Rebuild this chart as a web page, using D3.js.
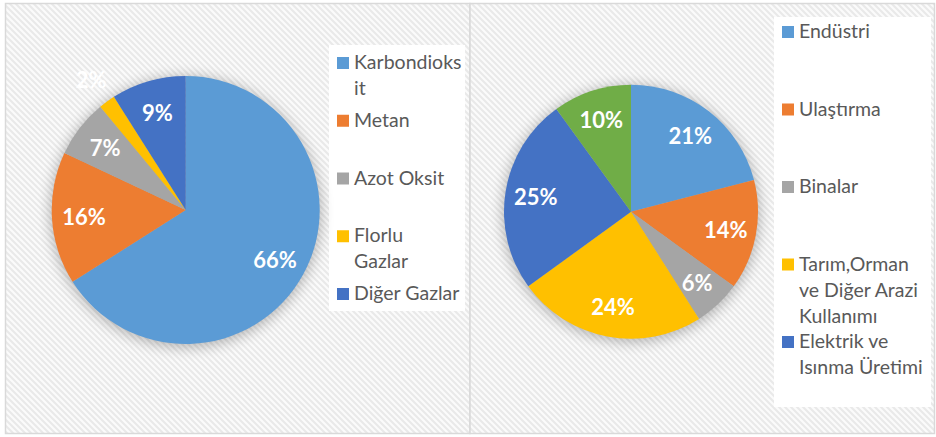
<!DOCTYPE html>
<html><head><meta charset="utf-8">
<script src="https://cdn.jsdelivr.net/npm/d3@7"></script>
<style>
html,body{margin:0;padding:0;background:#fff;}
svg{display:block;}
</style></head>
<body>
<svg id="chart" width="936" height="437"></svg>
<script>
// ---- data ----
const gasCategories = ["Karbondioksit", "Metan", "Azot Oksit", "Florlu Gazlar", "Diğer Gazlar"];
const gasValues = [66, 16, 7, 2, 9];
const gasLegendLines = [["Karbondioks", "it"], ["Metan"], ["Azot Oksit"], ["Florlu", "Gazlar"], ["Diğer Gazlar"]];

const sectorCategories = ["Endüstri", "Ulaştırma", "Binalar", "Tarım,Orman ve Diğer Arazi Kullanımı", "Elektrik ve Isınma Üretimi", "Diğer"];
const sectorValues = [21, 14, 6, 24, 25, 10];
const sectorLegendLines = [["Endüstri"], ["Ulaştırma"], ["Binalar"], ["Tarım,Orman", "ve Diğer Arazi", "Kullanımı"], ["Elektrik ve", "Isınma Üretimi"]];

const palette = ["#5B9BD5", "#ED7D31", "#A5A5A5", "#FFC000", "#4472C4", "#70AD47"];

// ---- drawing ----
const svg = d3.select("#chart");
const defs = svg.append("defs");
const pat = defs.append("pattern").attr("id", "hatch")
  .attr("patternUnits", "userSpaceOnUse").attr("width", 6).attr("height", 6);
pat.append("rect").attr("width", 6).attr("height", 6).attr("fill", "#fbfbfb");
pat.append("path").attr("d", "M-1,-1 L7,7 M-4,2 L1,7 M2,-4 L7,1")
  .attr("stroke", "#e9e9e9").attr("stroke-width", 2);
const flt = defs.append("filter").attr("id", "shadow")
  .attr("x", "-30%").attr("y", "-30%").attr("width", "160%").attr("height", "160%");
flt.append("feGaussianBlur").attr("stdDeviation", 7);

svg.append("rect").attr("x", 0).attr("y", 0).attr("width", 936).attr("height", 437).attr("fill", "#ffffff");

function panel(cfg) {
  const g = svg.append("g");
  g.append("rect").attr("x", cfg.x0).attr("y", 3.5).attr("width", cfg.x1 - cfg.x0).attr("height", 430)
    .attr("fill", "url(#hatch)").attr("stroke", "#d9d9d9").attr("stroke-width", 1.5);
  // legend box
  g.append("rect").attr("x", cfg.lx0).attr("y", cfg.ly0).attr("width", cfg.lx1 - cfg.lx0).attr("height", cfg.ly1 - cfg.ly0)
    .attr("fill", "#ffffff");

  const pie = d3.pie().sort(null).value(d => d.v);
  const data = pie(cfg.values.map((v, i) => ({ v, c: cfg.categories[i], i })));
  const arc = d3.arc().innerRadius(0).outerRadius(cfg.r);
  const pg = g.append("g").attr("transform", `translate(${cfg.cx},${cfg.cy})`);
  pg.append("circle").attr("r", cfg.r + 1).attr("cy", 2).attr("fill", "#000").attr("opacity", 0.28)
    .attr("filter", "url(#shadow)");
  pg.selectAll("path.slice").data(data).join("path").attr("class", "slice")
    .attr("d", arc).attr("fill", d => palette[d.data.i]);
  const total = d3.sum(cfg.values);
  pg.selectAll("text.lbl").data(data).join("text").attr("class", "lbl")
    .each(function (d) {
      const pct = d.data.v / total;
      const rr = pct < 0.03 ? cfg.r * 1.2 : cfg.r * 0.76;
      const a = (d.startAngle + d.endAngle) / 2;
      d3.select(this).attr("x", Math.sin(a) * rr).attr("y", -Math.cos(a) * rr);
    })
    .attr("text-anchor", "middle").attr("dominant-baseline", "central")
    .attr("fill", "#ffffff").attr("font-family", "Lato, 'Open Sans', sans-serif")
    .attr("font-weight", "bold").attr("font-size", 22)
    .text(d => d3.format(".0%")(d.data.v / total));

  // legend
  const lg = g.append("g");
  cfg.legendLines.forEach((lines, i) => {
    const by = cfg.legY0 + i * cfg.legStep;
    lg.append("rect").attr("x", cfg.sqX).attr("y", by - 12).attr("width", 12).attr("height", 12)
      .attr("fill", palette[i]);
    const t = lg.append("text").attr("x", cfg.sqX + 17).attr("y", by)
      .attr("fill", "#595959").attr("font-family", "Lato, 'Open Sans', sans-serif").attr("font-size", 19.5);
    lines.forEach((ln, j) => {
      t.append("tspan").attr("x", cfg.sqX + 17).attr("y", by + j * 26).text(ln);
    });
  });
}

panel({ x0: 5.5, x1: 470, categories: gasCategories, values: gasValues, legendLines: gasLegendLines,
  cx: 185.7, cy: 210, r: 134, lx0: 329, lx1: 465, ly0: 45, ly1: 311,
  sqX: 337, legY0: 69, legStep: 57.75 });
panel({ x0: 470, x1: 934.5, categories: sectorCategories, values: sectorValues, legendLines: sectorLegendLines,
  cx: 631, cy: 211.7, r: 127, lx0: 774, lx1: 931, ly0: 17, ly1: 407,
  sqX: 782, legY0: 38, legStep: 77.5 });
</script>
</body></html>
